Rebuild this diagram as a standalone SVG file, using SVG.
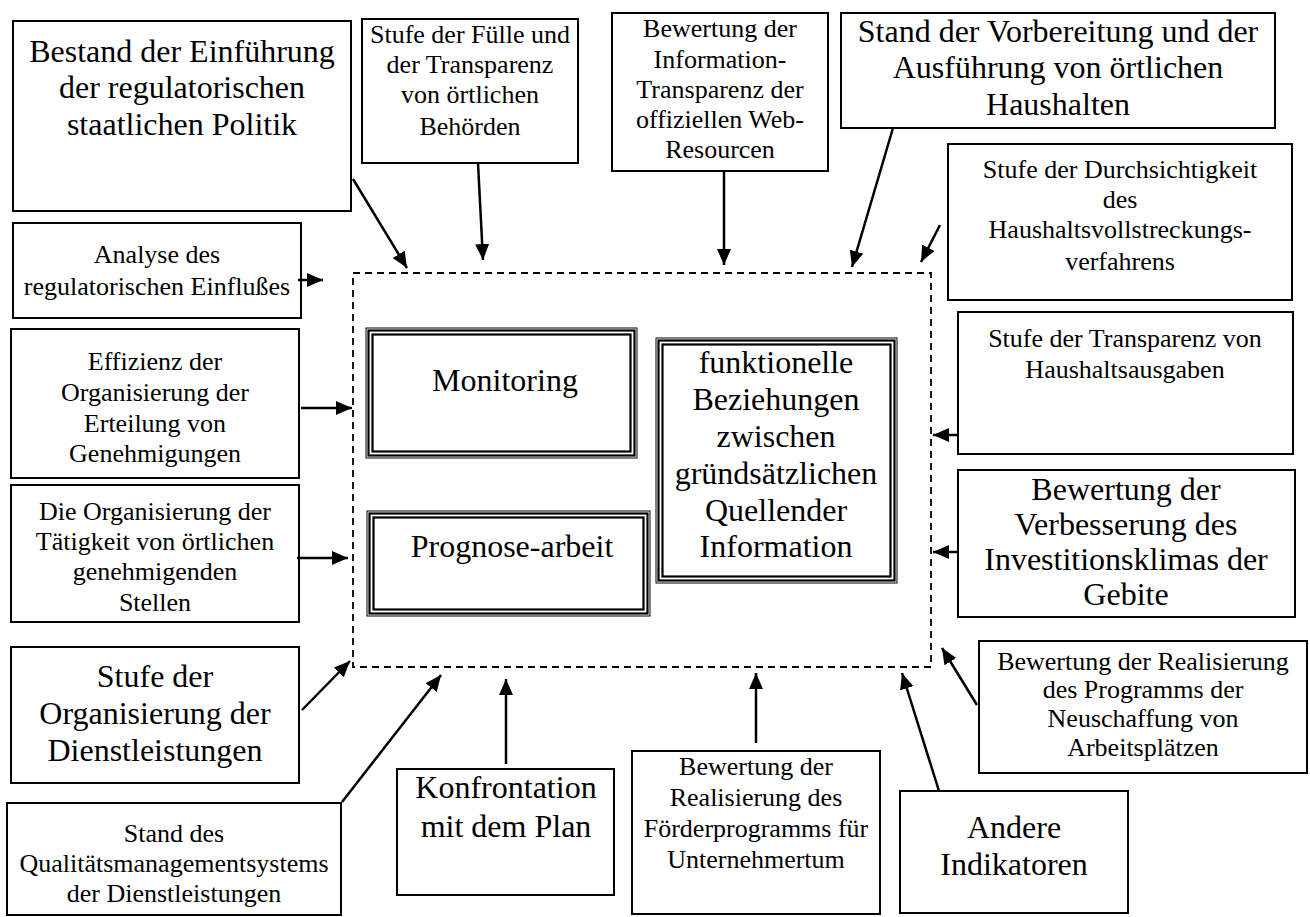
<svg xmlns="http://www.w3.org/2000/svg" width="1310" height="917" viewBox="0 0 1310 917">
<style>
.box{fill:#fff;stroke:#000;stroke-width:2}
.t{font-family:"Liberation Serif","Times New Roman",serif;fill:#000;text-anchor:middle}
.s{font-size:26px}
.l{font-size:32px}
.c{stroke:#000;stroke-width:2.5;fill:none;marker-end:url(#ah)}
.dash{fill:none;stroke:#000;stroke-width:1.8;stroke-dasharray:7 5}
.tr1{fill:#fff;stroke:#000;stroke-width:1}
.tr2{fill:none;stroke:#000;stroke-width:2.2}
</style>
<defs>
<marker id="ah" markerUnits="userSpaceOnUse" markerWidth="18" markerHeight="16" refX="16" refY="7" orient="auto">
<path d="M0,0 L16,7 L0,14 z" fill="#000"/>
</marker>
</defs>
<rect width="1310" height="917" fill="#fff"/>

<g id="container">
<rect class="dash" x="353" y="273" width="578" height="394"/>
</g>

<g id="monitoring">
<rect class="tr1" x="366" y="328" width="271" height="130"/>
<rect class="tr2" x="368.5" y="330.5" width="266" height="125"/>
<rect class="tr2" x="372.5" y="334.5" width="258" height="117"/>
<text class="t l" x="505" y="391">Monitoring</text>
</g>

<g id="prognose">
<rect class="tr1" x="367" y="511" width="283" height="105"/>
<rect class="tr2" x="369.5" y="513.5" width="278" height="100"/>
<rect class="tr2" x="373.5" y="517.5" width="270" height="92"/>
<text class="t l" x="512" y="557">Prognose-arbeit</text>
</g>

<g id="funktionelle">
<rect class="tr1" x="656" y="338" width="241" height="245"/>
<rect class="tr2" x="658.5" y="340.5" width="236" height="240"/>
<rect class="tr2" x="662.5" y="344.5" width="228" height="232"/>
<text class="t l" x="776" y="373">funktionelle</text>
<text class="t l" x="776" y="410">Beziehungen</text>
<text class="t l" x="776" y="447">zwischen</text>
<text class="t l" x="776" y="484">gründsätzlichen</text>
<text class="t l" x="776" y="521">Quellender</text>
<text class="t l" x="776" y="557">Information</text>
</g>

<g id="bestand">
<rect class="box" x="13" y="21" width="338" height="190"/>
<text class="t l" x="182" y="62">Bestand der Einführung</text>
<text class="t l" x="182" y="98">der regulatorischen</text>
<text class="t l" x="182" y="135">staatlichen Politik</text>
</g>

<g id="fuelle">
<rect class="box" x="362" y="19" width="216" height="144"/>
<text class="t s" x="470" y="43">Stufe der Fülle und</text>
<text class="t s" x="470" y="73">der Transparenz</text>
<text class="t s" x="470" y="103">von örtlichen</text>
<text class="t s" x="470" y="135">Behörden</text>
</g>

<g id="information">
<rect class="box" x="612" y="13" width="216" height="158"/>
<text class="t s" x="720" y="37">Bewertung der</text>
<text class="t s" x="720" y="68">Information-</text>
<text class="t s" x="720" y="98">Transparenz der</text>
<text class="t s" x="720" y="128">offiziellen Web-</text>
<text class="t s" x="720" y="158">Resourcen</text>
</g>

<g id="haushalte">
<rect class="box" x="841" y="13" width="434" height="115"/>
<text class="t l" x="1058" y="42">Stand der Vorbereitung und der</text>
<text class="t l" x="1058" y="78">Ausführung von örtlichen</text>
<text class="t l" x="1058" y="115">Haushalten</text>
</g>

<g id="durchsichtigkeit">
<rect class="box" x="948" y="144" width="344" height="156"/>
<text class="t s" x="1120" y="178">Stufe der Durchsichtigkeit</text>
<text class="t s" x="1120" y="208">des</text>
<text class="t s" x="1120" y="238">Haushaltsvollstreckungs-</text>
<text class="t s" x="1120" y="270">verfahrens</text>
</g>

<g id="analyse">
<rect class="box" x="13" y="223" width="288" height="95"/>
<text class="t s" x="157" y="263">Analyse des</text>
<text class="t s" x="157" y="295">regulatorischen Einflußes</text>
</g>

<g id="effizienz">
<rect class="box" x="11" y="329" width="288" height="149"/>
<text class="t s" x="155" y="370">Effizienz der</text>
<text class="t s" x="155" y="401">Organisierung der</text>
<text class="t s" x="155" y="432">Erteilung von</text>
<text class="t s" x="155" y="462">Genehmigungen</text>
</g>

<g id="taetigkeit">
<rect class="box" x="11" y="485" width="288" height="137"/>
<text class="t s" x="155" y="520">Die Organisierung der</text>
<text class="t s" x="155" y="550">Tätigkeit von örtlichen</text>
<text class="t s" x="155" y="580">genehmigenden</text>
<text class="t s" x="155" y="611">Stellen</text>
</g>

<g id="dienstleistungen">
<rect class="box" x="11" y="647" width="288" height="136"/>
<text class="t l" x="155" y="687">Stufe der</text>
<text class="t l" x="155" y="724">Organisierung der</text>
<text class="t l" x="155" y="761">Dienstleistungen</text>
</g>

<g id="qualitaet">
<rect class="box" x="7" y="803" width="334" height="112"/>
<text class="t s" x="174" y="842">Stand des</text>
<text class="t s" x="174" y="872">Qualitätsmanagementsystems</text>
<text class="t s" x="174" y="902">der Dienstleistungen</text>
</g>

<g id="konfrontation">
<rect class="box" x="397" y="769" width="217" height="126"/>
<text class="t l" x="506" y="798">Konfrontation</text>
<text class="t l" x="506" y="837">mit dem Plan</text>
</g>

<g id="foerder">
<rect class="box" x="632" y="751" width="248" height="163"/>
<text class="t s" x="756" y="775">Bewertung der</text>
<text class="t s" x="756" y="806">Realisierung des</text>
<text class="t s" x="756" y="837">Förderprogramms für</text>
<text class="t s" x="756" y="868">Unternehmertum</text>
</g>

<g id="andere">
<rect class="box" x="900" y="791" width="228" height="122"/>
<text class="t l" x="1014" y="838">Andere</text>
<text class="t l" x="1014" y="875">Indikatoren</text>
</g>

<g id="arbeitsplaetze">
<rect class="box" x="979" y="641" width="328" height="132"/>
<text class="t s" x="1143" y="670">Bewertung der Realisierung</text>
<text class="t s" x="1143" y="698">des Programms der</text>
<text class="t s" x="1143" y="727">Neuschaffung von</text>
<text class="t s" x="1143" y="756">Arbeitsplätzen</text>
</g>

<g id="investition">
<rect class="box" x="958" y="470" width="337" height="147"/>
<text class="t l" x="1126" y="500">Bewertung der</text>
<text class="t l" x="1126" y="535">Verbesserung des</text>
<text class="t l" x="1126" y="570">Investitionsklimas der</text>
<text class="t l" x="1126" y="605">Gebite</text>
</g>

<g id="ausgaben">
<rect class="box" x="958" y="312" width="335" height="142"/>
<text class="t s" x="1125" y="347">Stufe der Transparenz von</text>
<text class="t s" x="1125" y="378">Haushaltsausgaben</text>
</g>

<g id="connectors">
<line class="c" x1="353" y1="179" x2="407" y2="268"/>
<line class="c" x1="478" y1="163" x2="483" y2="260"/>
<line class="c" x1="724" y1="171" x2="724" y2="265"/>
<line class="c" x1="893" y1="128" x2="852" y2="267"/>
<line class="c" x1="940" y1="225" x2="921" y2="262"/>
<line class="c" x1="298" y1="280" x2="323" y2="280"/>
<line class="c" x1="301" y1="408" x2="352" y2="408"/>
<line class="c" x1="297" y1="558" x2="348" y2="558"/>
<line class="c" x1="957" y1="435" x2="933" y2="435"/>
<line class="c" x1="957" y1="552" x2="933" y2="552"/>
<line class="c" x1="302" y1="710" x2="350" y2="661"/>
<line class="c" x1="342" y1="802" x2="441" y2="675"/>
<line class="c" x1="506" y1="764" x2="506" y2="679"/>
<line class="c" x1="756" y1="743" x2="756" y2="673"/>
<line class="c" x1="939" y1="791" x2="902" y2="673"/>
<line class="c" x1="977" y1="705" x2="942" y2="648"/>
</g>
</svg>
